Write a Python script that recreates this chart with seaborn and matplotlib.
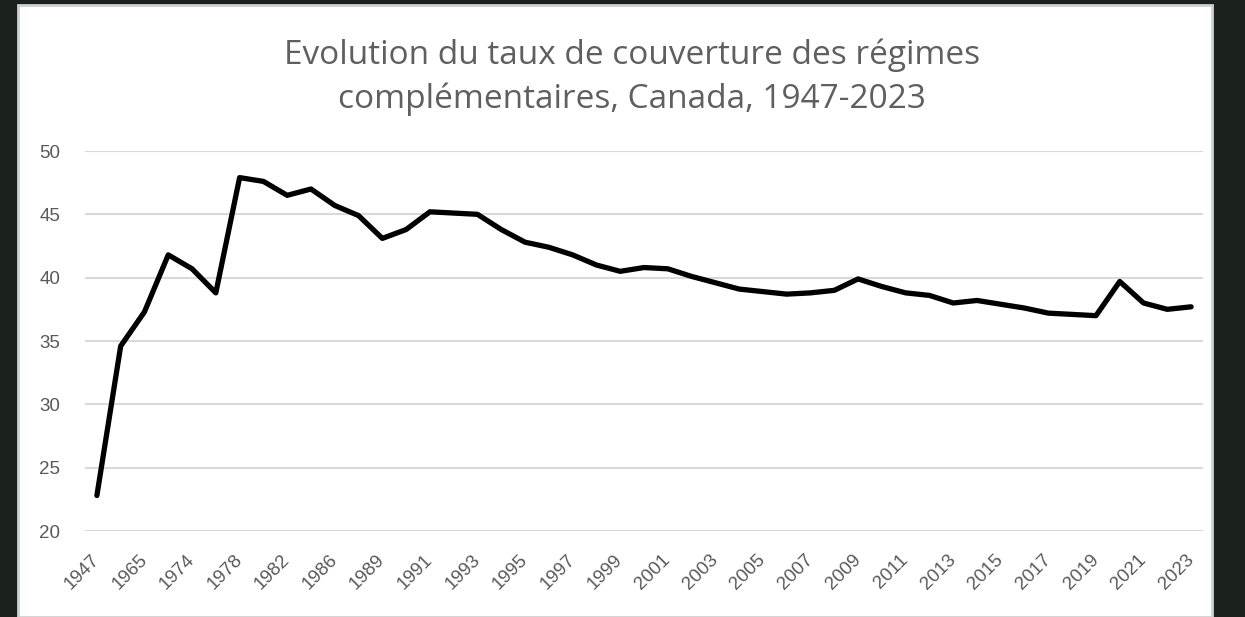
import pandas as pd
import seaborn as sns
import matplotlib.pyplot as plt
from matplotlib.patches import Rectangle

years = ['1947', '1960', '1965', '1970', '1974', '1976', '1978', '1980',
         '1982', '1984', '1986', '1988'] + [str(y) for y in range(1989, 2024)]
taux = [22.8, 34.6, 37.3, 41.8, 40.7, 38.8, 47.9, 47.6, 46.5, 47.0, 45.7, 44.9,
        43.1, 43.8, 45.2, 45.1, 45.0, 43.8, 42.8, 42.4, 41.8, 41.0, 40.5, 40.8,
        40.7, 40.1, 39.6, 39.1, 38.9, 38.7, 38.8, 39.0, 39.9, 39.3, 38.8, 38.6,
        38.0, 38.2, 37.9, 37.6, 37.2, 37.1, 37.0, 39.7, 38.0, 37.5, 37.7]
y_ticks = [20, 25, 30, 35, 40, 45, 50]
title = "Evolution du taux de couverture des régimes\ncomplémentaires, Canada, 1947-2023"

df = pd.DataFrame({'pos': range(len(years)), 'annee': years, 'taux': taux})

sns.set_style("white")
plt.rcParams['font.family'] = ['Open Sans', 'DejaVu Sans']

fig = plt.figure(figsize=(12.45, 6.17), dpi=100, facecolor='#1b221e')
# white chart panel over the dark screenshot background
fig.patches.append(Rectangle((18 / 1245, 0), 1194 / 1245, 612 / 617,
                             transform=fig.transFigure, facecolor='white',
                             edgecolor='#d0d0d0', linewidth=2, zorder=-5))

ax = fig.add_axes([85 / 1245, 1 - 531 / 617, 1118 / 1245, 380 / 617])
ax.set_facecolor('none')
ax.set_zorder(2)

sns.lineplot(data=df, x='pos', y='taux', color='black', linewidth=3.8, ax=ax)

ax.set_xlim(-0.5, len(years) - 0.5)
ax.set_ylim(20, 50)
ax.set_yticks(y_ticks)
ax.set_xticks(df['pos'][::2])
ax.set_xticklabels(df['annee'][::2])
plt.setp(ax.get_xticklabels(), rotation=45, ha='right', va='center',
         rotation_mode='anchor', family=['Liberation Sans', 'DejaVu Sans'])
plt.setp(ax.get_yticklabels(), family=['Liberation Sans', 'DejaVu Sans'])
ax.tick_params(axis='x', colors='#595959', labelsize=13.5, pad=19, length=0)
ax.tick_params(axis='y', colors='#595959', labelsize=13.5, pad=18, length=0)
ax.grid(axis='y', color='#d9d9d9', linewidth=1.5)
ax.set_axisbelow(True)
sns.despine(ax=ax, left=True, bottom=True)
ax.set_xlabel('')
ax.set_ylabel('')

fig.text(632 / 1245, 1 - 77 / 617, title, ha='center', va='center',
         fontsize=24, color='#5f5f5f', linespacing=1.4)

fig.savefig('out.png', dpi=100, facecolor=fig.get_facecolor())
